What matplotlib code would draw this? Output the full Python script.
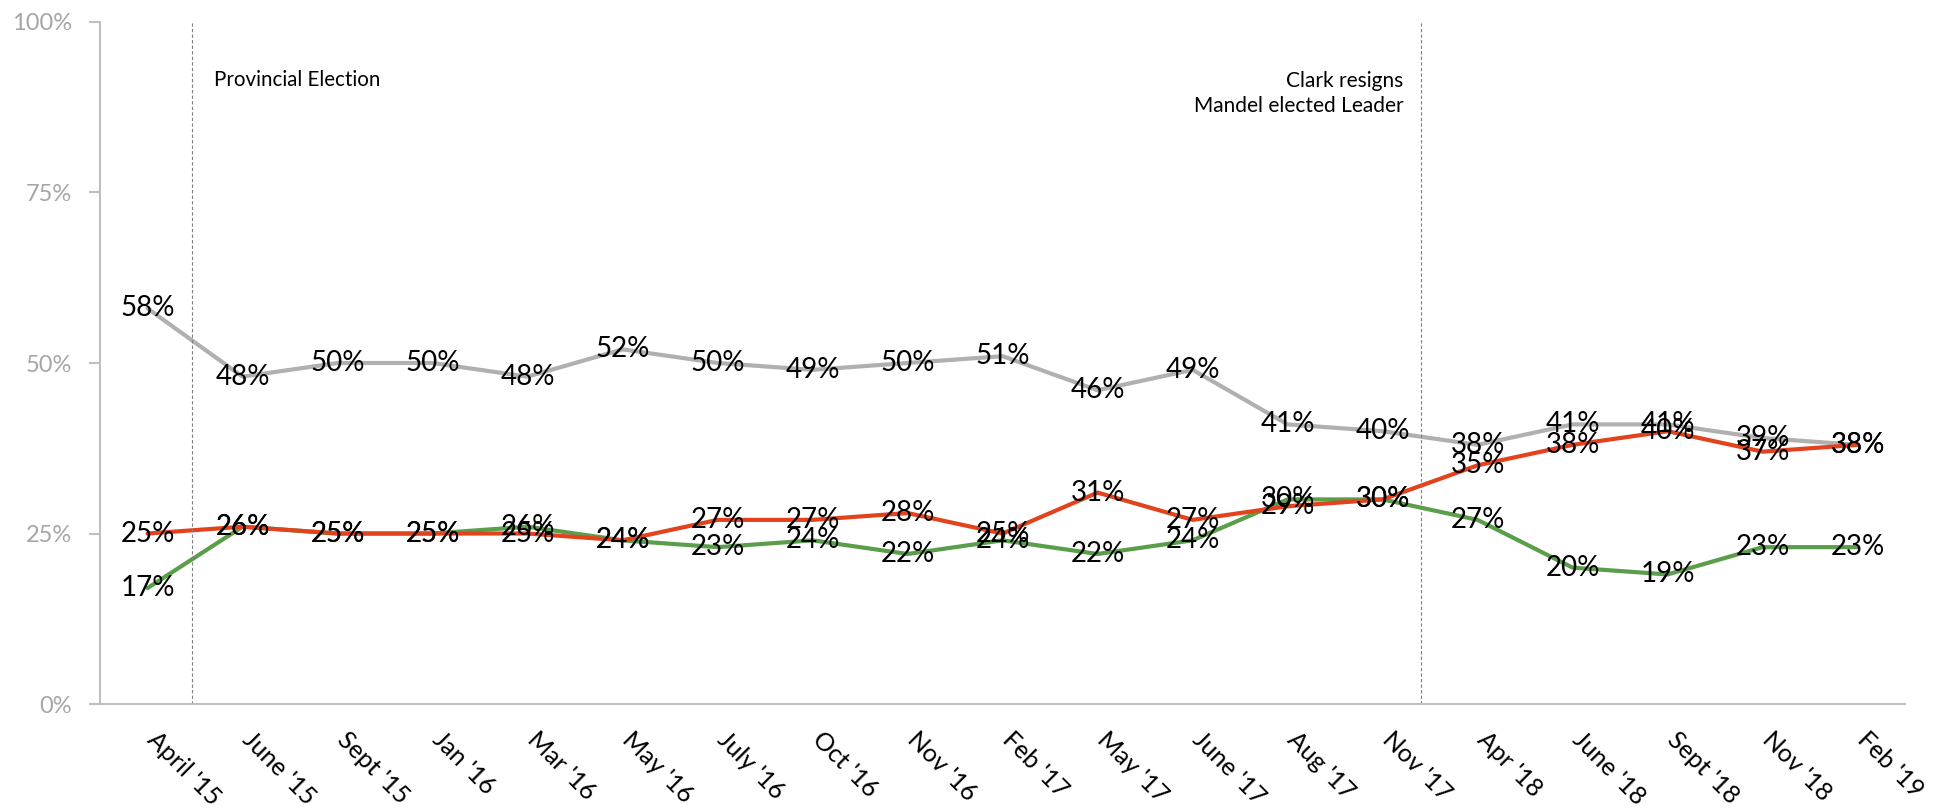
import matplotlib.pyplot as plt
import matplotlib.transforms as mtransforms

# Sondagens - intenção de voto
meses = ["April '15", "June '15", "Sept '15", "Jan '16", "Mar '16", "May '16", "July '16",
         "Oct '16", "Nov '16", "Feb '17", "May '17", "June '17", "Aug '17", "Nov '17",
         "Apr '18", "June '18", "Sept '18", "Nov '18", "Feb '19"]
cinza = [58, 48, 50, 50, 48, 52, 50, 49, 50, 51, 46, 49, 41, 40, 38, 41, 41, 39, 38]
vermelho = [25, 26, 25, 25, 25, 24, 27, 27, 28, 25, 31, 27, 29, 30, 35, 38, 40, 37, 38]
verde = [17, 26, 25, 25, 26, 24, 23, 24, 22, 24, 22, 24, 30, 30, 27, 20, 19, 23, 23]

eventos = [0.47, 13.4]
textos = ['Provincial Election', 'Clark resigns\nMandel elected Leader']

fig = plt.figure(figsize=(19.46, 8.11), dpi=100)
ax = fig.add_axes([0.0514, 0.1319, 0.9276, 0.841])

x = list(range(len(meses)))
ax.plot(x, cinza, color='#B0B0B0', lw=3, solid_capstyle='round')
ax.plot(x, verde, color='#5A9E4B', lw=3, solid_capstyle='round')
ax.plot(x, vermelho, color='#E2431D', lw=3, solid_capstyle='round')

for serie in (cinza, verde, vermelho):
    for i, v in enumerate(serie):
        ax.text(i, v, '{}%'.format(v), ha='center', va='center', fontsize=20,
                family='Lato', color='black')

for e in eventos:
    ax.axvline(e, color='#7F7F7F', lw=0.8, linestyle=(0, (3, 2)))
ax.text(0.7, 91.5, textos[0], ha='left', va='center', fontsize=14.8, family='Lato')
ax.text(13.22, 89.5, textos[1], ha='right', va='center', fontsize=15, family='Lato',
        linespacing=1.3, multialignment='right')

ax.set_xlim(-0.5, 18.5)
ax.set_ylim(0, 100)
ax.set_yticks([0, 25, 50, 75, 100])
ax.set_yticklabels(['0%', '25%', '50%', '75%', '100%'], fontsize=17, family='Lato',
                   color='#A6A6A6')
ax.tick_params(axis='y', length=8, color='#BFBFBF', width=1.5, pad=12)
ax.set_xticks(x)
ax.set_xticklabels(meses, rotation=-45, ha='left', va='top', rotation_mode='anchor',
                   fontsize=18, family='Lato')
ax.tick_params(axis='x', length=0, pad=17)
desloca = mtransforms.ScaledTranslation(0.12, 0, fig.dpi_scale_trans)
for lbl in ax.get_xticklabels():
    lbl.set_transform(lbl.get_transform() + desloca)

for s in ('top', 'right'):
    ax.spines[s].set_visible(False)
for s in ('left', 'bottom'):
    ax.spines[s].set_color('#BFBFBF')
    ax.spines[s].set_linewidth(1.5)
ax.spines['bottom'].set_bounds(-0.58, 18.5)
ax.spines['bottom'].set_clip_on(False)

fig.savefig('out.png', dpi=100)
